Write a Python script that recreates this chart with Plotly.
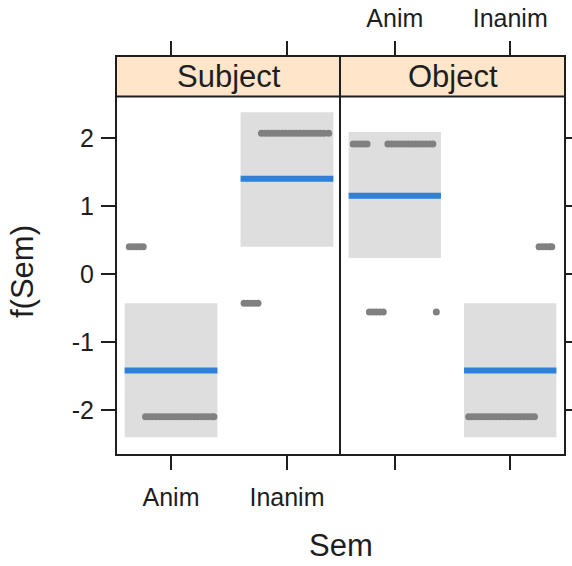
import plotly.graph_objects as go

# Factor levels and panels
sem_levels = ["Anim", "Inanim"]
panels = ["Subject", "Object"]

# Fitted effect and confidence band per level (Anim, Inanim)
fit_subject = [-1.42, 1.40]
lower_subject = [-2.40, 0.40]
upper_subject = [-0.43, 2.38]

fit_object = [1.15, -1.42]
lower_object = [0.235, -2.40]
upper_object = [2.09, -0.43]

# Partial residuals: level index, horizontal jitter, residual value
subj_level = [0] * 5 + [0] * 21 + [1] * 5 + [1] * 20
subj_jitter = [
    -0.36, -0.33, -0.30, -0.27, -0.24,
    -0.22, -0.19, -0.16, -0.13, -0.10, -0.07, -0.04, -0.01, 0.02, 0.05, 0.08,
    0.11, 0.14, 0.17, 0.20, 0.23, 0.26, 0.29, 0.32, 0.35, 0.37,
    -0.37, -0.34, -0.31, -0.28, -0.25,
    -0.22, -0.19, -0.16, -0.13, -0.10, -0.07, -0.04, -0.01, 0.02, 0.05, 0.08,
    0.11, 0.14, 0.17, 0.20, 0.23, 0.26, 0.29, 0.32, 0.36,
]
subj_resid = (
    [0.40, 0.40, 0.40, 0.40, 0.40]
    + [-2.10] * 21
    + [-0.43, -0.43, -0.43, -0.43, -0.43]
    + [2.07] * 20
)

obj_level = [0] * 19 + [0] * 6 + [1] * 20 + [1] * 5
obj_jitter = [
    -0.36, -0.33, -0.30, -0.27, -0.24,
    -0.06, -0.03, 0.00, 0.03, 0.06, 0.09, 0.12, 0.15, 0.18, 0.21, 0.24, 0.27,
    0.30, 0.33,
    -0.22, -0.19, -0.16, -0.13, -0.10, 0.36,
    -0.36, -0.33, -0.30, -0.27, -0.24, -0.21, -0.18, -0.15, -0.12, -0.09,
    -0.06, -0.03, 0.00, 0.03, 0.06, 0.09, 0.12, 0.15, 0.18, 0.21,
    0.25, 0.28, 0.31, 0.34, 0.36,
]
obj_resid = (
    [1.91] * 19
    + [-0.56] * 6
    + [-2.10] * 20
    + [0.40, 0.40, 0.40, 0.40, 0.40]
)

FONT = "Liberation Sans, Arial, sans-serif"
INK = "#1E1E1E"
BAND = "#DEDEDE"
LINE_BLUE = "#2F80D6"
DOT = "#808080"

W, H = 572, 566
x_left = [117 / W, 341 / W]
x_right = [341 / W, 564 / W]
y_dom = [1 - 454 / H, 1 - 56.5 / H]
strip_bottom = 1 - 96.5 / H
y_range = [-2.647, 3.1985]
x_range = [0.534, 2.466]
half = 0.4

fig = go.Figure()
shapes = []

panel_data = [
    ("x", "y", fit_subject, lower_subject, upper_subject, subj_level, subj_jitter, subj_resid),
    ("x2", "y2", fit_object, lower_object, upper_object, obj_level, obj_jitter, obj_resid),
]

for xa, ya, fit, lo, up, lvl, jit, res in panel_data:
    for i in range(len(sem_levels)):
        pos = i + 1
        shapes.append(dict(
            type="rect", xref=xa, yref=ya,
            x0=pos - half, x1=pos + half, y0=lo[i], y1=up[i],
            fillcolor=BAND, line=dict(width=0), layer="below",
        ))
    fig.add_trace(go.Scatter(
        x=[l + 1 + j for l, j in zip(lvl, jit)], y=res,
        mode="markers", xaxis=xa, yaxis=ya,
        marker=dict(color=DOT, size=7, line=dict(width=0)),
        showlegend=False, hoverinfo="skip",
    ))
    for i in range(len(sem_levels)):
        pos = i + 1
        fig.add_trace(go.Scatter(
            x=[pos - half, pos + half], y=[fit[i], fit[i]],
            mode="lines", xaxis=xa, yaxis=ya,
            line=dict(color=LINE_BLUE, width=6),
            showlegend=False, hoverinfo="skip",
        ))

# Strip headers
for dom in (x_left, x_right):
    shapes.append(dict(
        type="rect", xref="paper", yref="paper",
        x0=dom[0], x1=dom[1], y0=strip_bottom, y1=y_dom[1],
        fillcolor="#FFE5CA", line=dict(width=0), layer="below",
    ))
shapes.append(dict(
    type="line", xref="paper", yref="paper",
    x0=x_left[0], x1=x_right[1], y0=strip_bottom, y1=strip_bottom,
    line=dict(color=INK, width=2),
))

annotations = []
for name, dom in zip(panels, (x_left, x_right)):
    annotations.append(dict(
        text=name, xref="paper", yref="paper",
        x=(dom[0] + dom[1]) / 2, y=1 - 77 / H,
        xanchor="center", yanchor="middle", showarrow=False,
        font=dict(family=FONT, size=31, color=INK),
    ))
annotations.append(dict(
    text="Sem", xref="paper", yref="paper",
    x=341 / W, y=1 - 545 / H, xanchor="center", yanchor="middle",
    showarrow=False, font=dict(family=FONT, size=31, color=INK),
))
annotations.append(dict(
    text="f(Sem)", xref="paper", yref="paper",
    x=22 / W, y=1 - 272 / H, xanchor="center", yanchor="middle",
    textangle=-90, showarrow=False, font=dict(family=FONT, size=31, color=INK),
))

axis_common = dict(
    showgrid=False, zeroline=False, showline=True, automargin=False,
    linecolor=INK, linewidth=2,
    ticks="outside", ticklen=14, tickwidth=2, tickcolor=INK,
    tickfont=dict(family=FONT, size=25, color=INK),
)

fig.update_layout(
    width=W, height=H,
    margin=dict(l=0, r=0, t=0, b=0, autoexpand=False),
    paper_bgcolor="white", plot_bgcolor="white",
    shapes=shapes, annotations=annotations,
    xaxis=dict(
        domain=x_left, anchor="y", range=x_range,
        tickvals=[1, 2], ticktext=sem_levels, side="bottom",
        mirror="ticks", ticklabelstandoff=6, **axis_common,
    ),
    xaxis2=dict(
        domain=x_right, anchor="y2", range=x_range,
        tickvals=[1, 2], ticktext=sem_levels, side="top",
        mirror="ticks", ticklabelstandoff=4, **axis_common,
    ),
    yaxis=dict(
        domain=y_dom, anchor="x", range=y_range,
        tickvals=[-2, -1, 0, 1, 2], ticktext=["-2", "-1", "0", "1", "2"],
        mirror=False, ticklabelstandoff=2, **axis_common,
    ),
    yaxis2=dict(
        domain=y_dom, anchor="x2", range=y_range, side="right",
        tickvals=[-2, -1, 0, 1, 2], showticklabels=False,
        mirror=True, **axis_common,
    ),
)

fig.write_html("out.html")
